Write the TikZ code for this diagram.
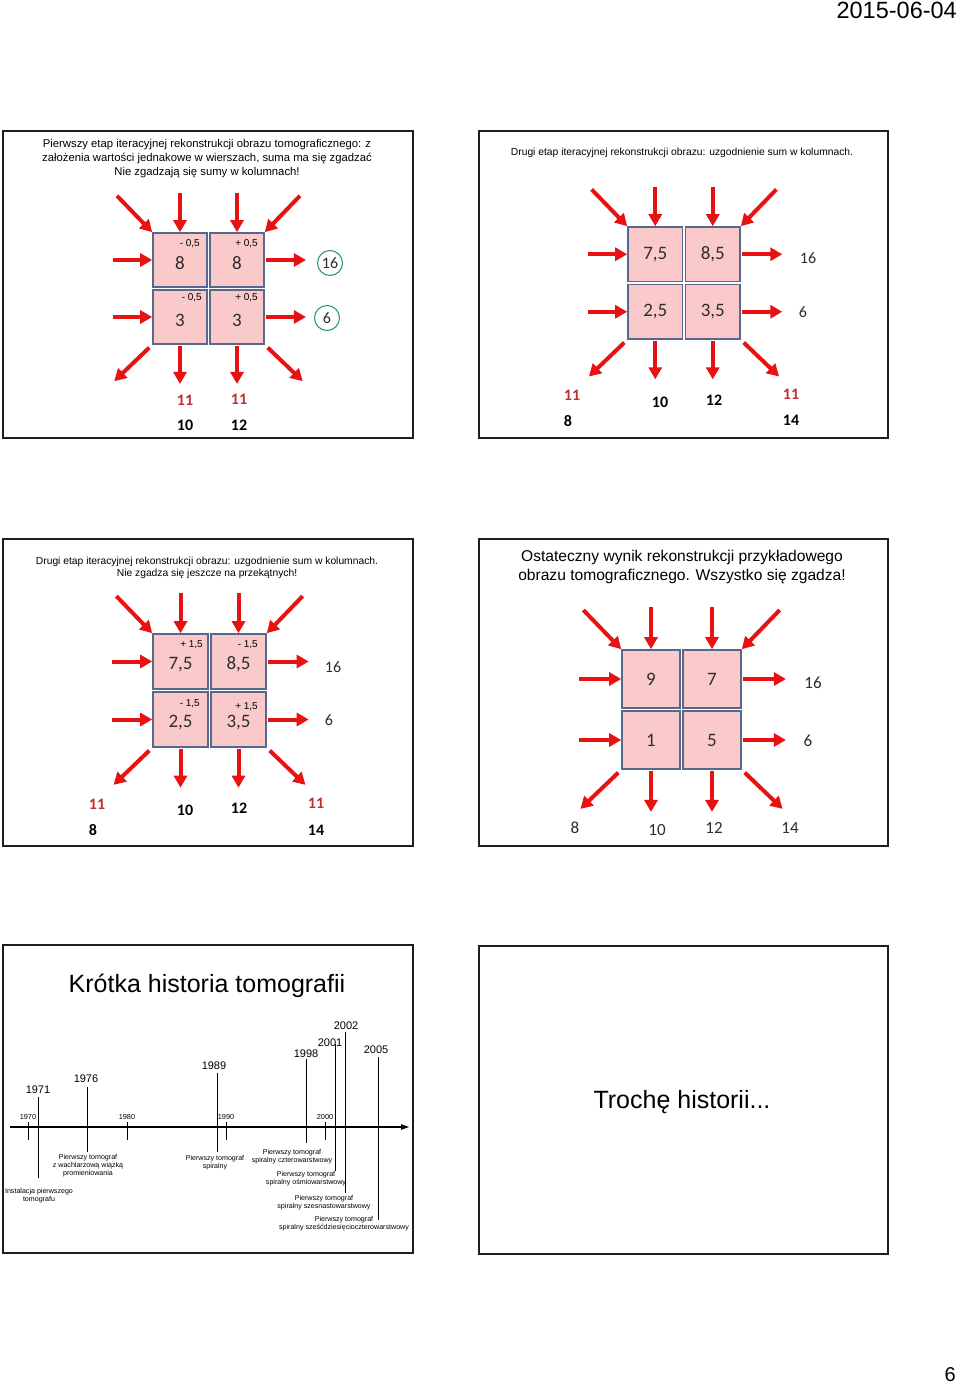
\documentclass[tikz,border=0pt]{standalone}
\usepackage{fontspec}
\setmainfont{Liberation Sans}
\newfontfamily\carl{Carlito}
\usetikzlibrary{arrows.meta}
\definecolor{arrred}{RGB}{232,18,18}
\definecolor{cellfill}{RGB}{250,202,202}
\definecolor{celldraw}{RGB}{88,104,140}
\definecolor{numgray}{RGB}{45,45,45}
\definecolor{elevred}{RGB}{192,48,48}
\definecolor{circgreen}{RGB}{40,150,90}
\definecolor{framegray}{RGB}{30,30,30}
\tikzset{
  slide/.style={draw=framegray, line width=1.8pt, fill=white, inner sep=0pt, anchor=north west},
  cell/.style={draw=celldraw, line width=1.6pt, fill=cellfill, inner sep=0pt, text=numgray, font=\carl\fontsize{19}{19}\selectfont},
  redarrow/.style={draw=arrred, line width=4pt, -{Triangle[width=13pt,length=12pt]}},
  smalllab/.style={font=\fontsize{10}{10}\selectfont, anchor=east, inner sep=0pt},
  sumlab/.style={font=\carl\fontsize{16}{16}\selectfont, text=numgray, inner sep=0pt},
  boldlab/.style={font=\carl\bfseries\fontsize{16}{16}\selectfont, inner sep=0pt},
  redlab/.style={boldlab, text=elevred},
  circ/.style={circle, draw=circgreen, line width=1pt, minimum size=25pt, inner sep=0pt, font=\carl\fontsize{16}{16}\selectfont, text=numgray},
  yearlab/.style={font=\fontsize{11}{11}\selectfont, inner sep=0pt},
  ticklab/.style={font=\fontsize{7.3}{7.3}\selectfont, inner sep=0pt},
  caplab/.style={font=\fontsize{7.1}{8}\selectfont, align=center, inner sep=0pt},
  tline/.style={line width=0.9pt}
}
\newcommand\dn[1]{\raisebox{-3pt}[\height][\depth]{#1}}
% grid of four cells with its sixteen arrows
\newcommand\tgrid[8]{%
  \begin{scope}[shift={(#2,#3)}, name prefix=#1-]
    \pgfmathsetmacro\gS{#4}
    \pgfmathsetmacro\gG{3}
    \pgfmathsetmacro\gW{2*\gS+\gG}
    \pgfmathsetmacro\gL{0.74*\gS}
    \node[cell, minimum size=\gS pt] (c11) at ({\gS/2},{\gS/2}) {#5};
    \node[cell, minimum size=\gS pt] (c12) at ({\gS+\gG+\gS/2},{\gS/2}) {#6};
    \node[cell, minimum size=\gS pt] (c21) at ({\gS/2},{\gS+\gG+\gS/2}) {#7};
    \node[cell, minimum size=\gS pt] (c22) at ({\gS+\gG+\gS/2},{\gS+\gG+\gS/2}) {#8};
    \coordinate (tl) at ({-0.9*\gL},{-0.93*\gL});
    \coordinate (tr) at ({\gW+0.9*\gL},{-0.93*\gL});
    \coordinate (t1) at ({\gS/2},{-\gL});
    \coordinate (t2) at ({\gS+\gG+\gS/2},{-\gL});
    \coordinate (l1) at ({-\gL},{\gS/2});
    \coordinate (l2) at ({-\gL},{\gS+\gG+\gS/2});
    \coordinate (r1) at ({\gW+\gL+2},{\gS/2});
    \coordinate (r2) at ({\gW+\gL+2},{\gS+\gG+\gS/2});
    \coordinate (b1) at ({\gS/2},{\gW+\gL});
    \coordinate (b2) at ({\gS+\gG+\gS/2},{\gW+\gL});
    \coordinate (bl) at ({-0.97*\gL},{\gW+0.93*\gL});
    \coordinate (br) at ({\gW+0.97*\gL},{\gW+0.93*\gL});
    \draw[redarrow] (tl) -- (c11.north west);
    \draw[redarrow] (t1) -- (c11.north);
    \draw[redarrow] (t2) -- (c12.north);
    \draw[redarrow] (tr) -- (c12.north east);
    \draw[redarrow] (l1) -- (c11.west);
    \draw[redarrow] (l2) -- (c21.west);
    \draw[redarrow, shorten <=1pt] (c12.east) -- (r1);
    \draw[redarrow, shorten <=1pt] (c22.east) -- (r2);
    \draw[redarrow, shorten <=1pt] (c21.south) -- (b1);
    \draw[redarrow, shorten <=1pt] (c22.south) -- (b2);
    \draw[redarrow, shorten <=4pt] (c21.south west) -- (bl);
    \draw[redarrow, shorten <=4pt] (c22.south east) -- (br);
  \end{scope}}
\begin{document}
\begin{tikzpicture}[x=1pt,y=-1pt]
\useasboundingbox (0,0) rectangle (960,1384);
\fill[white] (0,0) rectangle (960,1384);

% header and page number
\node[anchor=east, inner sep=0pt, font=\fontsize{23.5}{24}\selectfont] (date) at (957,10) {2015-06-04};
\node[anchor=east, inner sep=0pt, font=\fontsize{20}{20}\selectfont] (page) at (956,1375) {6};

% ---------- slide 1 ----------
\node[slide, minimum width=410pt, minimum height=307pt] (s1) at (2,130) {};
\node[align=center, inner sep=0pt, font=\fontsize{11.3}{14}\selectfont] (s1t) at (207,159)
  {Pierwszy etap iteracyjnej rekonstrukcji obrazu tomograficznego: z\\założenia wartości jednakowe w wierszach, suma ma się zgadzać\\Nie zgadzają się sumy w kolumnach!};
\tgrid{g1}{153}{233}{54}{\dn{8}}{\dn{8}}{\dn{3}}{\dn{3}}
\node[smalllab] (g1-d11) at (200,244) {- 0,5};
\node[smalllab] (g1-d12) at (258,244) {+ 0,5};
\node[smalllab] (g1-d21) at (202,298) {- 0,5};
\node[smalllab] (g1-d22) at (258,298) {+ 0,5};
\node[circ] (g1-r1) at (330,263) {16};
\node[circ] (g1-r2) at (327,318) {6};
\node[redlab] (g1-e1) at (185,400) {11};
\node[redlab] (g1-e2) at (239,399) {11};
\node[boldlab] (g1-k1) at (185,425) {10};
\node[boldlab] (g1-k2) at (239,425) {12};

% ---------- slide 2 ----------
\node[slide, minimum width=409pt, minimum height=307pt] (s2) at (478,130) {};
\node[inner sep=0pt, font=\fontsize{10.3}{12}\selectfont] (s2t) at (682,153)
  {Drugi etap iteracyjnej rekonstrukcji obrazu: uzgodnienie sum w kolumnach.};
\tgrid{g2}{628}{227}{54.5}{7,5}{8,5}{2,5}{3,5}
\node[sumlab] (g2-r1) at (808,258) {16};
\node[sumlab] (g2-r2) at (803,312) {6};
\node[redlab] (g2-e1) at (572,395) {11};
\node[boldlab] (g2-k0) at (568,421) {8};
\node[boldlab] (g2-k1) at (660,402) {10};
\node[boldlab] (g2-k2) at (714,400) {12};
\node[redlab] (g2-e2) at (791,394) {11};
\node[boldlab] (g2-k3) at (791,420) {14};

% ---------- slide 3 ----------
\node[slide, minimum width=410pt, minimum height=307pt] (s3) at (2,538) {};
\node[align=center, inner sep=0pt, font=\fontsize{10.3}{12.5}\selectfont] (s3t) at (207,568)
  {Drugi etap iteracyjnej rekonstrukcji obrazu: uzgodnienie sum w kolumnach.\\Nie zgadza się jeszcze na przekątnych!};
\tgrid{g3}{153}{634}{55}{\dn{7,5}}{\dn{8,5}}{\dn{2,5}}{\dn{3,5}}
\node[smalllab] (g3-d11) at (203,645) {+ 1,5};
\node[smalllab] (g3-d12) at (258,645) {- 1,5};
\node[smalllab] (g3-d21) at (200,704) {- 1,5};
\node[smalllab] (g3-d22) at (258,707) {+ 1,5};
\node[sumlab] (g3-r1) at (333,667) {16};
\node[sumlab] (g3-r2) at (329,720) {6};
\node[redlab] (g3-e1) at (97,804) {11};
\node[boldlab] (g3-k0) at (93,830) {8};
\node[boldlab] (g3-k1) at (185,810) {10};
\node[boldlab] (g3-k2) at (239,808) {12};
\node[redlab] (g3-e2) at (316,803) {11};
\node[boldlab] (g3-k3) at (316,830) {14};

% ---------- slide 4 ----------
\node[slide, minimum width=409pt, minimum height=307pt] (s4) at (478,538) {};
\node[align=center, inner sep=0pt, font=\fontsize{15.6}{18.8}\selectfont] (s4t) at (682,567)
  {Ostateczny wynik rekonstrukcji przykładowego\\obrazu tomograficznego. Wszystko się zgadza!};
\tgrid{g4}{622}{650}{58}{9}{7}{1}{5}
\node[sumlab, font=\carl\fontsize{17}{17}\selectfont] (g4-r1) at (813,683) {16};
\node[sumlab, font=\carl\fontsize{17}{17}\selectfont] (g4-r2) at (808,741) {6};
\node[sumlab, font=\carl\fontsize{17}{17}\selectfont] (g4-k0) at (575,828) {8};
\node[sumlab, font=\carl\fontsize{17}{17}\selectfont] (g4-k1) at (657,830) {10};
\node[sumlab, font=\carl\fontsize{17}{17}\selectfont] (g4-k2) at (714,828) {12};
\node[sumlab, font=\carl\fontsize{17}{17}\selectfont] (g4-k3) at (790,828) {14};

% ---------- slide 5 ----------
\node[slide, minimum width=410pt, minimum height=308pt] (s5) at (2,944) {};
\node[inner sep=0pt, font=\fontsize{25}{25}\selectfont] (s5t) at (207,986) {Krótka historia tomografii};
\coordinate (ax0) at (10,1127);
\coordinate (ax1) at (409,1127);
\draw[line width=1.1pt, -{Triangle[length=8pt,width=5.5pt]}] (ax0) -- (ax1);
% ticks
\foreach \tx/\ty in {28/1970,127/1980,226/1990,325/2000}{
  \coordinate (tk\ty a) at (\tx,1122);
  \coordinate (tk\ty b) at (\tx,1140);
  \draw[tline] (tk\ty a) -- (tk\ty b);
  \node[ticklab] (tl\ty) at (\tx,1117) {\ty};
}
% events
\foreach \ex/\etop/\ebot/\ey/\elx/\ely in {38/1097/1178/1971/38/1090, 87/1087/1152/1976/86/1079, 217/1073/1152/1989/214/1066, 306/1059/1143/1998/306/1054, 335/1044/1171/2001/330/1043, 345/1032/1193/2002/346/1026, 378/1057/1220/2005/376/1050}{
  \coordinate (ev\ey a) at (\ex,\etop);
  \coordinate (ev\ey b) at (\ex,\ebot);
  \draw[tline] (ev\ey a) -- (ev\ey b);
  \node[yearlab] (yl\ey) at (\elx,\ely) {\ey};
}
\node[caplab] (c1971) at (39,1196) {Instalacja pierwszego\\tomografu};
\node[caplab] (c1976) at (88,1166) {Pierwszy tomograf\\z wachlarzową wiązką\\promieniowania};
\node[caplab] (c1989) at (215,1163) {Pierwszy tomograf\\spiralny};
\node[caplab] (c1998) at (292,1157) {Pierwszy tomograf\\spiralny czterowarstwowy};
\node[caplab] (c2001) at (306,1179) {Pierwszy tomograf\\spiralny ośmiowarstwowy};
\node[caplab] (c2002) at (324,1203) {Pierwszy tomograf\\spiralny szesnastowarstwowy};
\node[caplab] (c2005) at (344,1224) {Pierwszy tomograf\\spiralny sześćdziesięcioczterowarstwowy};

% ---------- slide 6 ----------
\node[slide, minimum width=409pt, minimum height=308pt] (s6) at (478,945) {};
\node[inner sep=0pt, font=\fontsize{25}{25}\selectfont] (s6t) at (682,1102) {Trochę historii...};
\end{tikzpicture}
\end{document}
